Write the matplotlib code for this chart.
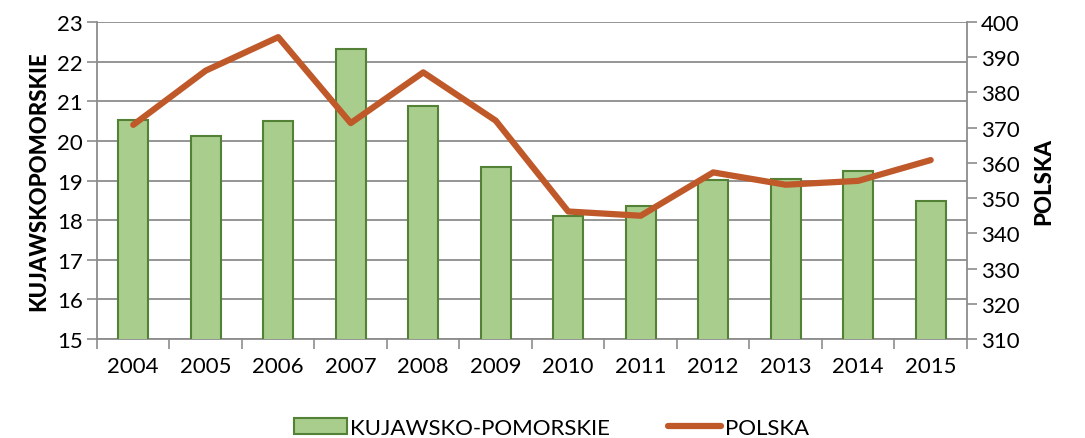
import matplotlib
matplotlib.use("Agg")
import matplotlib.pyplot as plt
import numpy as np

years = ["2004", "2005", "2006", "2007", "2008", "2009",
         "2010", "2011", "2012", "2013", "2014", "2015"]
kujawsko_pomorskie = [20.53, 20.12, 20.51, 22.32, 20.88, 19.35,
                      18.11, 18.36, 19.01, 19.04, 19.23, 18.49]
polska = [370.8, 386.2, 395.7, 371.3, 385.7, 372.0,
          346.2, 345.0, 357.3, 353.8, 354.9, 360.8]

plt.rcParams["font.family"] = ["Lato", "DejaVu Sans"]
grid_col = "#8c8c8c"
bar_fill = "#a9cd8c"
bar_edge = "#538135"
line_col = "#c0592a"
fs = 16

fig = plt.figure(figsize=(10.85, 4.39), dpi=100)
ax = fig.add_axes([0.0894, 0.2255, 0.8018, 0.7221])
ax2 = ax.twinx()

x = np.arange(len(years))
bars = ax.bar(x, kujawsko_pomorskie, width=0.41, color=bar_fill,
              edgecolor=bar_edge, linewidth=1.5, zorder=3,
              label="KUJAWSKO-POMORSKIE")
ax.set_ylim(15, 23)
ax.set_yticks(range(15, 24))
ax.set_xlim(-0.5, len(years) - 0.5)
ax.set_xticks(x)
ax.set_xticklabels(years)
ax.set_xticks(np.arange(-0.5, len(years), 1.0), minor=True)
ax.tick_params(axis="x", which="major", length=0, pad=12, labelsize=fs)
ax.tick_params(axis="x", which="minor", length=7, color=grid_col, width=1.2)
ax.tick_params(axis="y", length=7, color=grid_col, width=1.2, labelsize=fs, pad=3)
ax.grid(axis="y", color=grid_col, linewidth=1.3, zorder=0)
ax.set_axisbelow(True)
for side in ["top", "right"]:
    ax.spines[side].set_visible(False)
for side in ["left", "bottom"]:
    ax.spines[side].set_color(grid_col)
    ax.spines[side].set_linewidth(1.3)
ax.set_ylabel("KUJAWSKOPOMORSKIE", fontsize=fs, fontweight="black", labelpad=6)

ax2.plot(x, polska, color=line_col, linewidth=4.5, solid_capstyle="round",
         solid_joinstyle="round", zorder=4, label="POLSKA")
ax2.set_ylim(310, 400)
ax2.set_yticks(range(310, 401, 10))
ax2.tick_params(axis="y", length=7, color=grid_col, width=1.2, labelsize=fs, pad=3)
for side in ["top", "left", "bottom"]:
    ax2.spines[side].set_visible(False)
ax2.spines["right"].set_color(grid_col)
ax2.spines["right"].set_linewidth(1.3)
ax2.set_ylabel("POLSKA", fontsize=fs, fontweight="black", labelpad=10)

handles = [bars, ax2.get_lines()[0]]
fig.legend(handles, ["KUJAWSKO-POMORSKIE", "POLSKA"], loc="lower center",
           bbox_to_anchor=(0.508, -0.045), ncol=2, frameon=False, fontsize=fs,
           handlelength=2.4, handletextpad=0.15, columnspacing=2.6)

fig.savefig("out.png", dpi=100)
